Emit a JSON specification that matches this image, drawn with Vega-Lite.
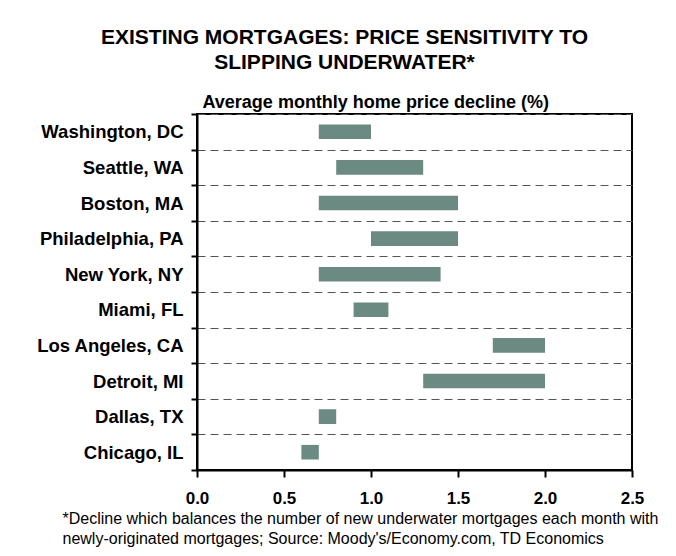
{
  "$schema": "https://vega.github.io/schema/vega-lite/v6.json",
  "width": 435,
  "height": 356,
  "autosize": "none",
  "padding": {"left": 197, "top": 114, "right": 44, "bottom": 86},
  "background": "white",
  "title": {
    "text": ["EXISTING MORTGAGES: PRICE SENSITIVITY TO", "SLIPPING UNDERWATER*"],
    "anchor": "middle",
    "frame": "group",
    "dx": -70,
    "fontSize": 21,
    "font": "Liberation Sans",
    "fontWeight": "bold",
    "color": "black",
    "lineHeight": 25,
    "offset": 20
  },
  "data": {
    "values": [
      {"city": "Washington, DC", "low": 0.7, "high": 1.0},
      {"city": "Seattle, WA", "low": 0.8, "high": 1.3},
      {"city": "Boston, MA", "low": 0.7, "high": 1.5},
      {"city": "Philadelphia, PA", "low": 1.0, "high": 1.5},
      {"city": "New York, NY", "low": 0.7, "high": 1.4},
      {"city": "Miami, FL", "low": 0.9, "high": 1.1},
      {"city": "Los Angeles, CA", "low": 1.7, "high": 2.0},
      {"city": "Detroit, MI", "low": 1.3, "high": 2.0},
      {"city": "Dallas, TX", "low": 0.7, "high": 0.8},
      {"city": "Chicago, IL", "low": 0.6, "high": 0.7}
    ]
  },
  "mark": {"type": "bar", "color": "#6a8a82", "height": {"band": 0.41}},
  "encoding": {
    "y": {
      "field": "city",
      "type": "nominal",
      "sort": null,
      "scale": {"paddingInner": 0, "paddingOuter": 0},
      "axis": {
        "title": "Average monthly home price decline (%)",
        "titleAngle": 0,
        "titleX": 5,
        "titleY": -7,
        "titleAlign": "left",
        "titleBaseline": "alphabetic",
        "titleFontSize": 18,
        "titleFont": "Liberation Sans",
        "titleFontWeight": "bold",
        "titleColor": "black",
        "labelFontSize": 18.5,
        "labelFont": "Liberation Sans",
        "labelFontWeight": "bold",
        "labelColor": "black",
        "labelPadding": 8,
        "labelLimit": 300,
        "tickBand": "extent",
        "ticks": true,
        "tickSize": 6,
        "tickDash": [],
        "tickOffset": 0,
        "grid": true,
        "gridDash": [8, 5],
        "gridColor": "#555555",
        "gridWidth": 1,
        "zindex": 1
      }
    },
    "x": {
      "field": "low",
      "type": "quantitative",
      "scale": {"domain": [0, 2.5], "nice": false},
      "axis": {
        "values": [0, 0.5, 1, 1.5, 2, 2.5],
        "format": ".1f",
        "grid": false,
        "ticks": true,
        "tickSize": 7,
        "tickDash": [],
        "tickOffset": 0,
        "labelFontSize": 17,
        "labelFont": "Liberation Sans",
        "labelFontWeight": "bold",
        "labelColor": "black",
        "labelPadding": 13,
        "labelFlush": false,
        "zindex": 1,
        "title": [
          "*Decline which balances the number of new underwater mortgages each month with",
          "newly-originated mortgages; Source: Moody's/Economy.com, TD Economics"
        ],
        "titleX": -135,
        "titleY": 53,
        "titleAlign": "left",
        "titleBaseline": "alphabetic",
        "titleFont": "Liberation Sans",
        "titleFontSize": 16,
        "titleFontWeight": "normal",
        "titleColor": "black",
        "titleLineHeight": 20
      }
    },
    "x2": {"field": "high"}
  },
  "config": {
    "axis": {"domain": true, "ticks": true, "domainColor": "black", "domainWidth": 2, "tickColor": "#000000", "tickWidth": 2, "tickOpacity": 1, "domainOpacity": 1},
    "view": {"stroke": "black", "strokeWidth": 2}
  }
}
